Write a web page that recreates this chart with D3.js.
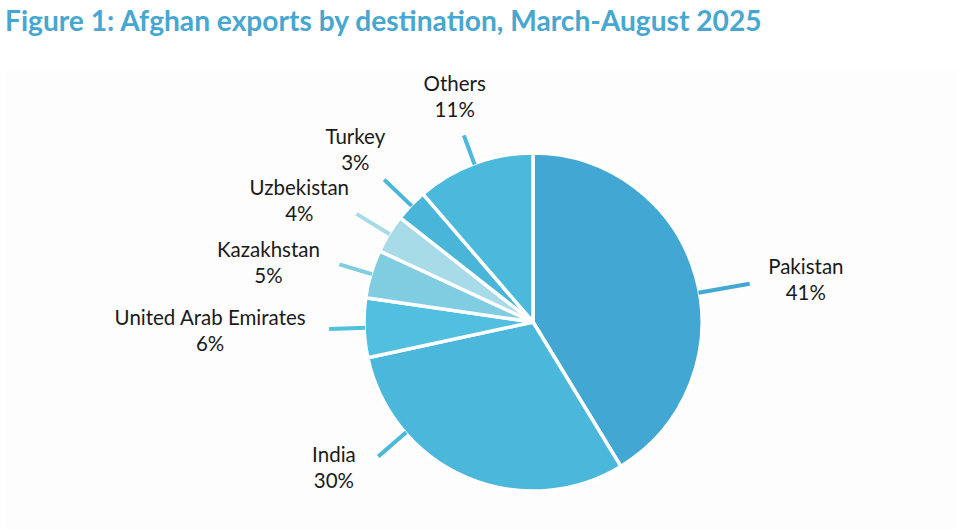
<!DOCTYPE html>
<html>
<head>
<meta charset="utf-8">
<script src="https://cdn.jsdelivr.net/npm/d3@7"></script>
<style>
  body { margin: 0; background: #fff; }
  svg { display: block; }
</style>
</head>
<body>
<div id="chart"></div>
<script>
// data
const categories = ["Pakistan", "India", "United Arab Emirates", "Kazakhstan", "Uzbekistan", "Turkey", "Others"];
const shares = [41.3, 30.3, 5.7, 4.6, 3.7, 3.1, 11.3];
const shareLabels = ["41%", "30%", "6%", "5%", "4%", "3%", "11%"];

// styling / layout
const sliceColors = ["#42a8d3", "#4ab7db", "#50bfe0", "#80cde2", "#a8dbe8", "#48b5d9", "#4bb9db"];
// leader line angle (deg, clockwise from top); null = slice middle
const leaderAngles = [80, 229, null, null, null, null, null];
const leaderLengths = [51, 36, 35, 33, 38, 37, 30];
// label block centre in polar form [deg, radius]
const labelSpots = [[81.3, 276], [233.7, 247], [268.4, 323], [282.6, 271], [297.3, 263], [314, 247], [340.8, 238]];

const width = 957, height = 529;
const cx = 533, cy = 322, radius = 169;

const svg = d3.select("#chart").append("svg")
  .attr("width", width)
  .attr("height", height);

svg.append("rect")
  .attr("x", 5).attr("y", 71)
  .attr("width", width - 5).attr("height", height - 71)
  .attr("fill", "#fdfdfd");

const title = svg.append("text")
  .attr("x", 5).attr("y", 31)
  .attr("fill", "#47a7d0")
  .style("font-family", "Lato, sans-serif")
  .style("font-weight", 700)
  .style("font-size", "27px")
  .text("Figure 1: Afghan exports by destination, March-August 2025");

// fit title to the width it has in the figure
const tw = title.node().getComputedTextLength();
title.style("font-size", (27 * 757 / tw) + "px");

const g = svg.append("g").attr("transform", `translate(${cx},${cy})`);

const pie = d3.pie().sort(null).value(d => d.value);
const arcs = pie(categories.map((c, i) => ({ name: c, value: shares[i], i })));
const arc = d3.arc().innerRadius(0).outerRadius(radius);
const rad = Math.PI / 180;

g.selectAll("path.slice")
  .data(arcs)
  .join("path")
  .attr("class", "slice")
  .attr("d", arc)
  .attr("fill", d => sliceColors[d.data.i])
  .attr("stroke", "#fff")
  .attr("stroke-width", 3.5)
  .attr("stroke-linejoin", "round");

g.selectAll("line.leader")
  .data(arcs)
  .join("line")
  .attr("class", "leader")
  .each(function (d) {
    const i = d.data.i;
    const a = leaderAngles[i] != null ? leaderAngles[i] * rad : (d.startAngle + d.endAngle) / 2;
    const p0 = d3.pointRadial(a, radius - 1);
    const p1 = d3.pointRadial(a, radius + leaderLengths[i]);
    d3.select(this)
      .attr("x1", p0[0]).attr("y1", p0[1])
      .attr("x2", p1[0]).attr("y2", p1[1]);
  })
  .attr("stroke", d => sliceColors[d.data.i])
  .attr("stroke-width", 4);

const labels = g.selectAll("text.lbl")
  .data(arcs)
  .join("text")
  .attr("class", "lbl")
  .attr("text-anchor", "middle")
  .attr("fill", "#1a1a1a")
  .style("font-family", "Lato, sans-serif")
  .style("font-size", "20.5px")
  .attr("transform", d => {
    const s = labelSpots[d.data.i];
    const p = d3.pointRadial(s[0] * rad, s[1]);
    return `translate(${p[0]},${p[1]})`;
  });

labels.append("tspan").attr("x", 0).attr("y", -6).text(d => d.data.name);
labels.append("tspan").attr("x", 0).attr("y", 20).text(d => shareLabels[d.data.i]);
</script>
</body>
</html>
